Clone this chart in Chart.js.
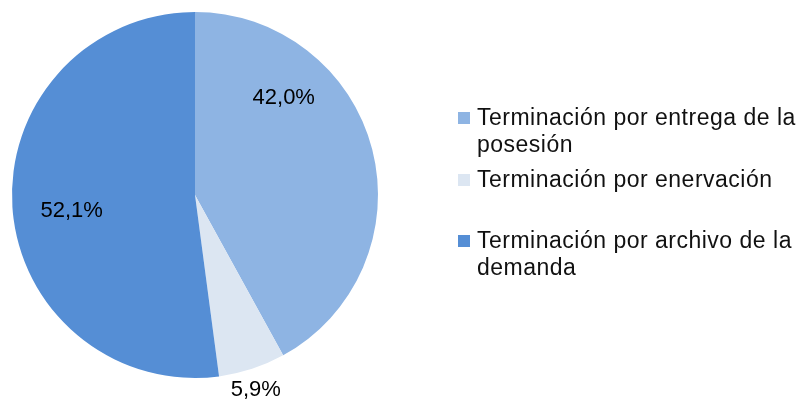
<!DOCTYPE html>
<html>
<head>
<meta charset="utf-8">
<script src="https://cdn.jsdelivr.net/npm/chart.js@4"></script>
<style>
  html, body { margin: 0; padding: 0; background: #fff; }
  #wrap { width: 800px; height: 401px; }
</style>
</head>
<body>
<div id="wrap"><canvas id="chart"></canvas></div>
<script>
const labels = [
  'Terminación por entrega de la posesión',
  'Terminación por enervación',
  'Terminación por archivo de la demanda'
];
const values = [42.0, 5.9, 52.1];
const colors = ['#8EB4E3', '#DCE6F2', '#558ED5'];

const FONT = '"Liberation Sans", Arial, Helvetica, sans-serif';

// where each percentage sits: fraction along the slice, fraction of radius
const labelSpots = [[0.28, 0.72], [0.54, 1.115], [0.48, 0.68]];

const pctLabels = {
  id: 'pctLabels',
  afterDatasetsDraw(chart) {
    const ctx = chart.ctx;
    const arcs = chart.getDatasetMeta(0).data;
    ctx.save();
    ctx.font = '22px ' + FONT;
    ctx.fillStyle = '#000';
    ctx.textAlign = 'center';
    ctx.textBaseline = 'middle';
    arcs.forEach((arc, i) => {
      const { x, y, startAngle, endAngle, outerRadius } = arc.getProps(['x', 'y', 'startAngle', 'endAngle', 'outerRadius'], true);
      const a = startAngle + (endAngle - startAngle) * labelSpots[i][0];
      const r = outerRadius * labelSpots[i][1];
      const txt = values[i].toFixed(1).replace('.', ',') + '%';
      ctx.fillText(txt, x + Math.cos(a) * r, y + Math.sin(a) * r);
    });
    ctx.restore();
  }
};

// legend drawn by hand so long names can wrap
const sideLegend = {
  id: 'sideLegend',
  afterDraw(chart) {
    const ctx = chart.ctx;
    ctx.save();
    ctx.font = '23px ' + FONT;
    ctx.letterSpacing = '0.5px';
    ctx.textBaseline = 'alphabetic';
    const boxX = 458, textX = 477, maxW = 330;
    const firstBase = [125, 187, 248];
    const lineH = 27;
    labels.forEach((lab, i) => {
      const words = lab.split(' ');
      const lines = [];
      let cur = '';
      words.forEach(w => {
        const t = cur ? cur + ' ' + w : w;
        if (ctx.measureText(t).width > maxW && cur) { lines.push(cur); cur = w; }
        else cur = t;
      });
      lines.push(cur);
      const b = firstBase[i];
      ctx.fillStyle = colors[i];
      ctx.fillRect(boxX, b - 13, 12, 12);
      ctx.fillStyle = '#111';
      lines.forEach((ln, k) => ctx.fillText(ln, textX, b + k * lineH));
    });
    ctx.restore();
  }
};

new Chart(document.getElementById('chart'), {
  type: 'pie',
  data: {
    labels: labels,
    datasets: [{
      data: values,
      backgroundColor: colors,
      borderWidth: 0
    }]
  },
  options: {
    responsive: true,
    maintainAspectRatio: false,
    animation: false,
    layout: { padding: { left: 12, top: 12, right: 422, bottom: 23 } },
    plugins: {
      legend: { display: false },
      tooltip: { enabled: false }
    }
  },
  plugins: [pctLabels, sideLegend]
});
</script>
</body>
</html>
